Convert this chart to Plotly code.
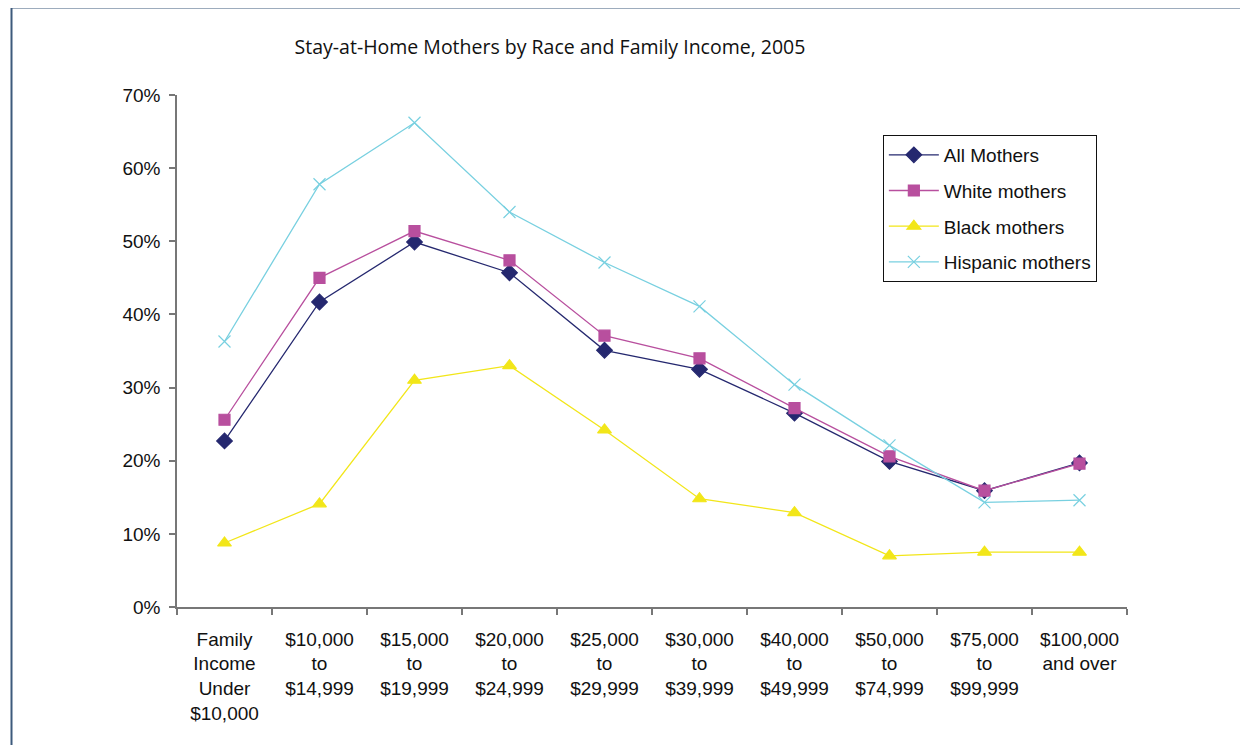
import plotly.graph_objects as go

# income brackets (x axis)
brackets = ["Family<br>Income<br>Under<br>$10,000", "$10,000<br>to<br>$14,999",
            "$15,000<br>to<br>$19,999", "$20,000<br>to<br>$24,999",
            "$25,000<br>to<br>$29,999", "$30,000<br>to<br>$39,999",
            "$40,000<br>to<br>$49,999", "$50,000<br>to<br>$74,999",
            "$75,000<br>to<br>$99,999", "$100,000<br>and over"]

# share of mothers staying at home, percent
all_mothers = [22.7, 41.7, 49.9, 45.7, 35.1, 32.5, 26.5, 19.9, 15.9, 19.7]
white_mothers = [25.6, 45.0, 51.4, 47.4, 37.1, 34.0, 27.2, 20.6, 15.9, 19.6]
black_mothers = [8.75, 14.1, 31.0, 33.0, 24.2, 14.8, 12.9, 7.0, 7.5, 7.5]
hispanic_mothers = [36.3, 57.8, 66.2, 54.0, 47.1, 41.1, 30.4, 22.1, 14.3, 14.6]

y_ticks = [0, 10, 20, 30, 40, 50, 60, 70]

series = [
    ("All Mothers", all_mothers, "#25286f", "diamond", 12),
    ("White mothers", white_mothers, "#b84f9e", "square", 11),
    ("Black mothers", black_mothers, "#f2e619", "triangle-up", 12),
    ("Hispanic mothers", hispanic_mothers, "#78d0e0", "x-thin", 12),
]

fig = go.Figure()
for i, (name, vals, col, sym, sz) in enumerate(series):
    fig.add_trace(go.Scatter(
        x=list(range(len(brackets))), y=vals, name=name, mode="lines+markers",
        legendgroup=str(i),
        line=dict(color=col, width=1.3),
        marker=dict(symbol=sym, size=sz, color=col, line=dict(color=col, width=1.2)),
    ))

axis_font = dict(family="Liberation Sans, Arial", size=19, color="#111111")

# page has an 8px body margin, so the figure is 16px smaller and shifted
fig.update_layout(
    width=1232, height=737,
    margin=dict(l=169, r=113, t=87, b=138),
    paper_bgcolor="white", plot_bgcolor="white",
    showlegend=True,
    title=dict(text="Stay-at-Home Mothers by Race and Family Income, 2005",
               x=542 / 1232, xanchor="center", y=1 - 39 / 737, yanchor="middle",
               font=dict(family="Open Sans", size=19.5, color="#111111")),
    legend=dict(x=0.743, y=0.922, xanchor="left", yanchor="top",
                bordercolor="#111111", borderwidth=1, bgcolor="white",
                traceorder="grouped", tracegroupgap=8, itemwidth=50,
                font=axis_font),
    xaxis=dict(range=[-0.5, 9.5], tickmode="array",
               tickvals=list(range(len(brackets))), ticktext=brackets,
               showline=True, linecolor="#777777", linewidth=1.5,
               ticks="", showgrid=False, zeroline=False, tickfont=axis_font,
               ticklabelstandoff=14,
               minor=dict(tickvals=[i - 0.5 for i in range(len(brackets) + 1)],
                          ticks="outside", ticklen=6, tickcolor="#777777", tickwidth=1.5)),
    yaxis=dict(range=[0, 70], tickmode="array", tickvals=y_ticks,
               ticktext=[f"{v}%" for v in y_ticks],
               showline=True, linecolor="#777777", linewidth=1.5,
               ticks="outside", ticklen=6, tickcolor="#777777", tickwidth=1.5,
               ticklabelstandoff=5,
               showgrid=False, zeroline=False, tickfont=axis_font),
    shapes=[dict(type="rect", xref="paper", yref="paper",
                 x0=(3.5 - 169) / 950, x1=1.2, y0=-0.4, y1=(599 + 0.5) / 512,
                 line=dict(color="#3d5a7c", width=2))],
)

fig.write_html("out.html")
